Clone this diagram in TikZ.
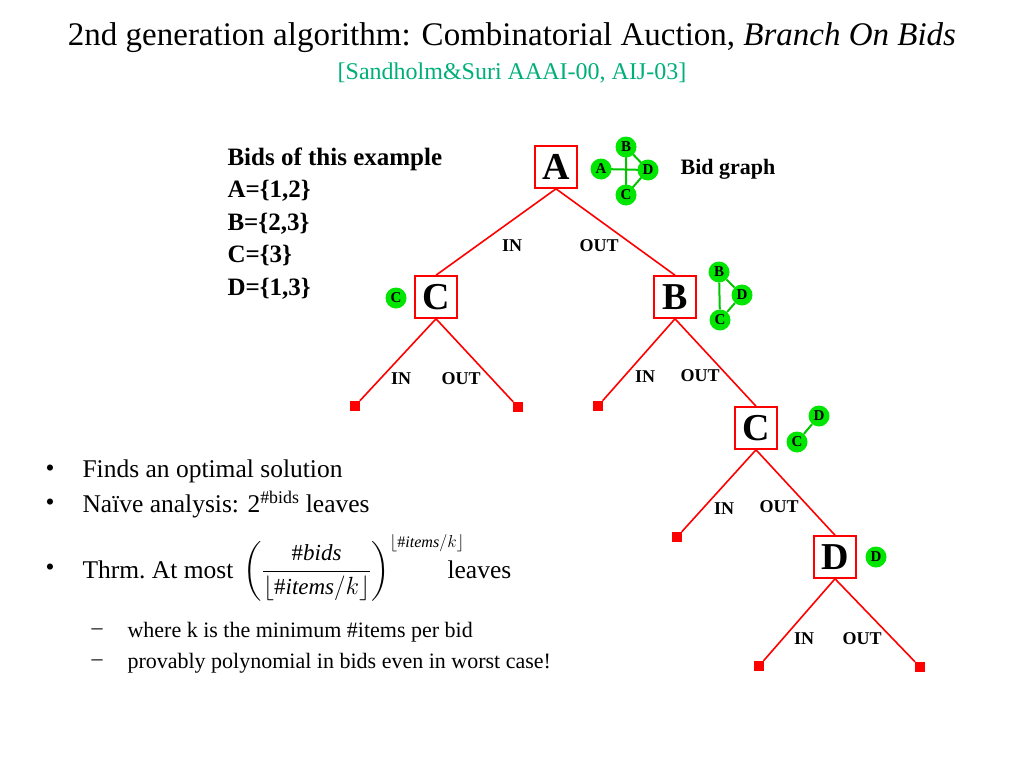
\documentclass[tikz,border=0pt]{standalone}
\usepackage{fontspec}
\setmainfont{Liberation Serif}
\usepackage{amsmath}
\definecolor{teal2}{RGB}{0,175,120}
\definecolor{bidgreen}{RGB}{0,230,0}
\begin{document}
\begin{tikzpicture}[x=1pt,y=-1pt,
	box/.style={draw=red,line width=1.6pt,fill=white,minimum size=42pt,inner sep=0pt,font=\bfseries\fontsize{38}{38}\selectfont},
	leaf/.style={fill=red,minimum size=10pt,inner sep=0pt},
	bid/.style={circle,fill=bidgreen,minimum size=21pt,inner sep=0pt,font=\bfseries\fontsize{15}{15}\selectfont},
	edge/.style={red,line width=1.6pt},
	gedge/.style={bidgreen!85!black,line width=2pt},
	lab/.style={font=\bfseries\fontsize{18}{18}\selectfont}]
	\useasboundingbox (0,0) rectangle (1024,768);
	%title
	\node (title) at (512,38) {\fontsize{33}{33}\selectfont 2nd generation algorithm: Combinatorial Auction, \textit{Branch On Bids}};
	\node[teal2] (sub) at (512,73) {\fontsize{24}{24}\selectfont [Sandholm\&Suri AAAI-00, AIJ-03]};
	%bids
	\node[anchor=north west,align=left,font=\bfseries\fontsize{25}{32.5}\selectfont] (bids) at (224,144)
	{Bids of this example\\A=\{1,2\}\\B=\{2,3\}\\C=\{3\}\\D=\{1,3\}};
	%tree
	\node[box] (a) at (556,167) {A};
	\node[box] (c1) at (436,297) {C};
	\node[box] (b) at (675,297) {B};
	\node[box] (c2) at (756,428) {C};
	\node[box] (d) at (835,557) {D};
	\node[leaf] (l1) at (355,406) {};
	\node[leaf] (l2) at (518,407) {};
	\node[leaf] (l3) at (598,406) {};
	\node[leaf] (l4) at (677,537) {};
	\node[leaf] (l5) at (759,666) {};
	\node[leaf] (l6) at (920,667) {};
	\draw[edge] (a.south) -- (c1.north) (a.south) -- (b.north);
	\draw[edge] (c1.south) -- (l1) (c1.south) -- (l2);
	\draw[edge] (b.south) -- (l3) (b.south) -- (c2.north);
	\draw[edge] (c2.south) -- (l4) (c2.south) -- (d.north);
	\draw[edge] (d.south) -- (l5) (d.south) -- (l6);
	%branch labels
	\foreach \n/\x/\y/\t in {i1/512/246/IN,o1/599/246/OUT,i2/401/379/IN,o2/461/379/OUT,
		i3/645/377/IN,o3/700/376/OUT,i4/724/509/IN,o4/779/507/OUT,i5/804/639/IN,o5/862/639/OUT}
	\node[lab] (\n) at (\x,\y) {\t};
	%bid graphs
	\coordinate (pb) at (626,147);
	\coordinate (pa) at (601,169);
	\coordinate (pd) at (648,170);
	\coordinate (pc) at (626,195);
	\draw[gedge] (pa) -- (pd) (pb) -- (pc) (pb) -- (pd) (pd) -- (pc);
	\node[bid] (gb) at (pb) {B};
	\node[bid] (ga) at (pa) {A};
	\node[bid] (gd) at (pd) {D};
	\node[bid] (gc) at (pc) {C};
	\node[font=\bfseries\fontsize{22}{22}\selectfont] (graph) at (728,169) {Bid graph};
	\node[bid] (hb) at (719,272) {B};
	\node[bid] (hd) at (742,295) {D};
	\node[bid] (hc) at (720,320) {C};
	\draw[gedge] (hb) -- (hc) (hb) -- (hd) (hd) -- (hc);
	\node[bid] (kc) at (396,298) {C};
	\node[bid] (md) at (819,416) {D};
	\node[bid] (mc) at (797,442) {C};
	\draw[gedge] (md) -- (mc);
	\node[bid] (nd) at (876,557) {D};
	%bullets
	\begin{scope}[every node/.style={anchor=west,font=\fontsize{25.5}{25.5}\selectfont}]
	\node (p1) at (42,471) {\textbullet};
	\node (t1) at (79,471) {Finds an optimal solution};
	\node (p2) at (42,505) {\textbullet};
	\node (t2) at (79,505) {Naïve analysis: 2\textsuperscript{\#bids} leaves};
	\node (p3) at (42,570) {\textbullet};
	\node (t3) at (79,570) {Thrm.\ At most};
	\node (f) at (240,568) {\fontsize{23}{23}\selectfont$\displaystyle\left(\frac{\#\mathit{bids}}{\lfloor \#\mathit{items}/k\rfloor}\right)^{\lfloor \#\mathit{items}/k\rfloor}$};
	\node (t4) at (444,570) {leaves};
	\end{scope}
	\begin{scope}[every node/.style={anchor=west,font=\fontsize{22}{22}\selectfont}]
	\node (q1) at (88,632) {--};
	\node (s1) at (124,632) {where k is the minimum \#items per bid};
	\node (q2) at (88,663) {--};
	\node (s2) at (124,663) {provably polynomial in bids even in worst case!};
	\end{scope}
\end{tikzpicture}
\end{document}
